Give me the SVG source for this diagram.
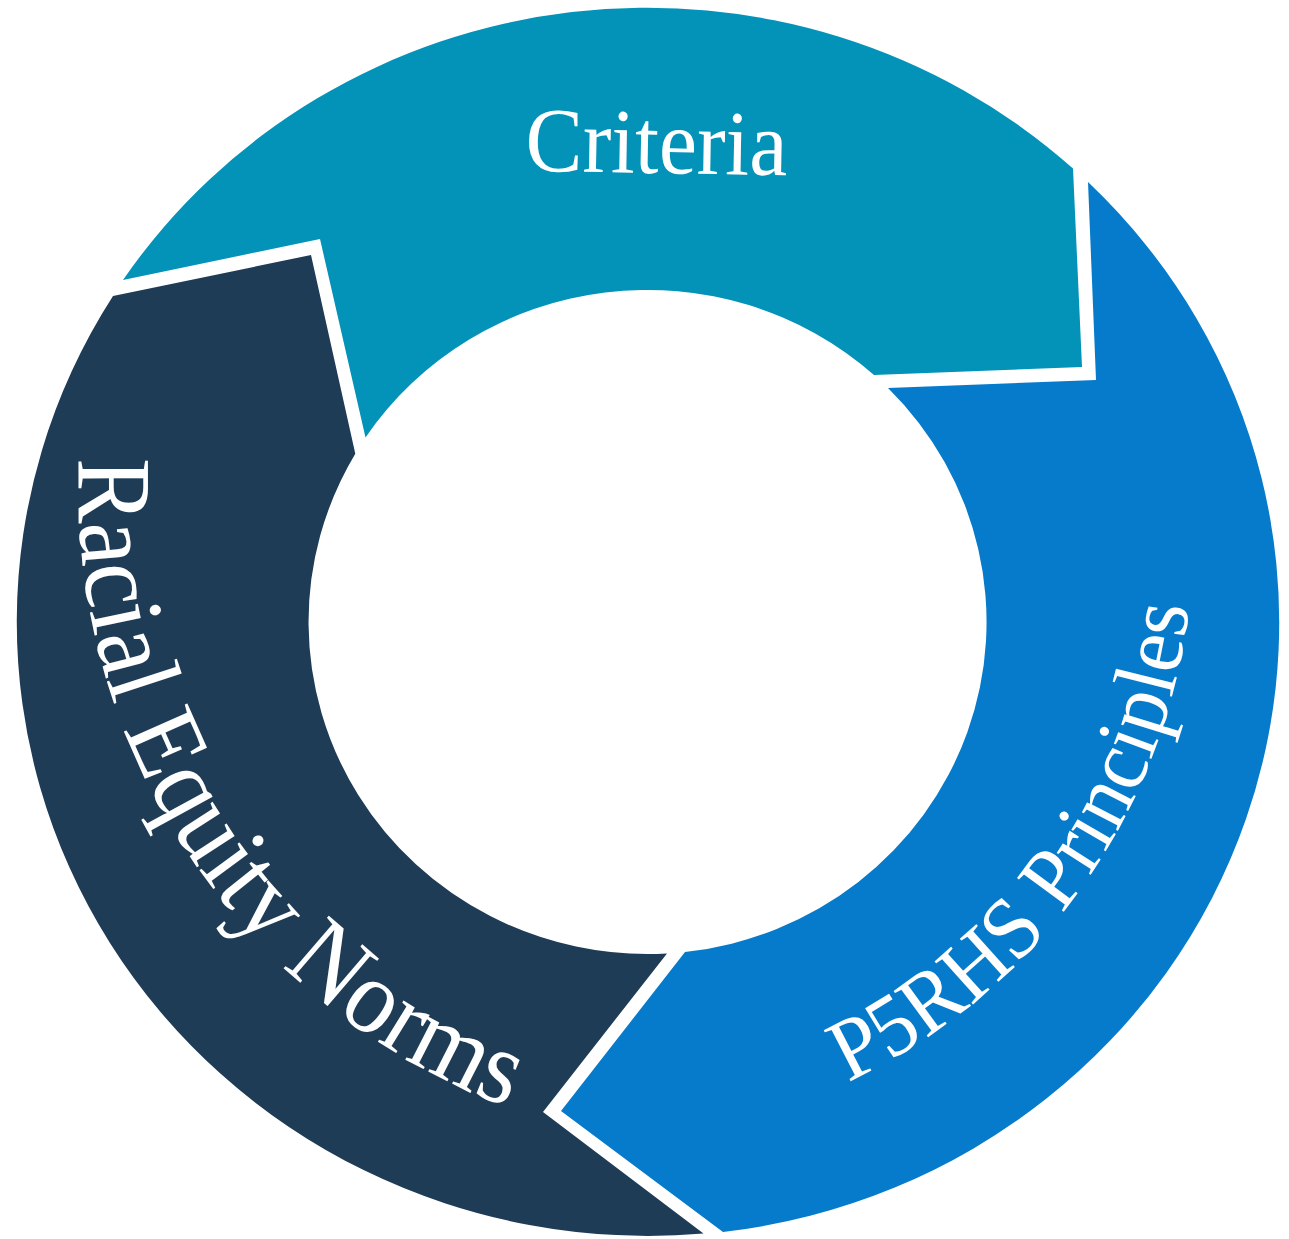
<svg xmlns="http://www.w3.org/2000/svg" width="1289" height="1239" viewBox="0 0 1289 1239">
<style>
.lbl{font-family:"Liberation Serif","DejaVu Serif",serif;fill:#ffffff;}
.teal{fill:#0393b8;}
.dark{fill:#1f3c57;}
.blue{fill:#067bcb;}
</style>
<defs>
<path id="racialPath" d="M79.2,458 A658.6,658.6 0 0 0 566.5,1125.7"/>
<path id="p5Path" d="M799.7,1102 A597,597 0 0 0 1156.5,336.8"/>
</defs>
<rect width="1289" height="1239" fill="#ffffff"/>
<g id="criteria">
<path class="teal" d="M123,280 A631,614 0 0 1 1073,168.5 L1082,367 L874,375 A339,332 0 0 0 365.5,437.5 L320,239 Z"/>
<text class="lbl" x="656" y="173" font-size="92" text-anchor="middle" textLength="262" lengthAdjust="spacingAndGlyphs" transform="rotate(1 656 173)">Criteria</text>
</g>
<g id="racial-equity-norms">
<path class="dark" d="M703.5,1233.5 A631,614 0 0 1 113,296 L311,255 L355.3,453.7 A339,332 0 0 0 667,953.4 L543,1112 Z"/>
<text class="lbl" font-size="106"><textPath href="#racialPath" textLength="832" lengthAdjust="spacingAndGlyphs">Racial Equity Norms</textPath></text>
</g>
<g id="p5rhs-principles">
<path class="blue" d="M1088,182 A631,614 0 0 1 723,1232 L561,1111 L685,952 A339,332 0 0 0 888,388 L1096,380 Z"/>
<text class="lbl" font-size="88"><textPath href="#p5Path" startOffset="52" textLength="612" lengthAdjust="spacingAndGlyphs">P5RHS Principles</textPath></text>
</g>
<g id="connectors"/>
</svg>
